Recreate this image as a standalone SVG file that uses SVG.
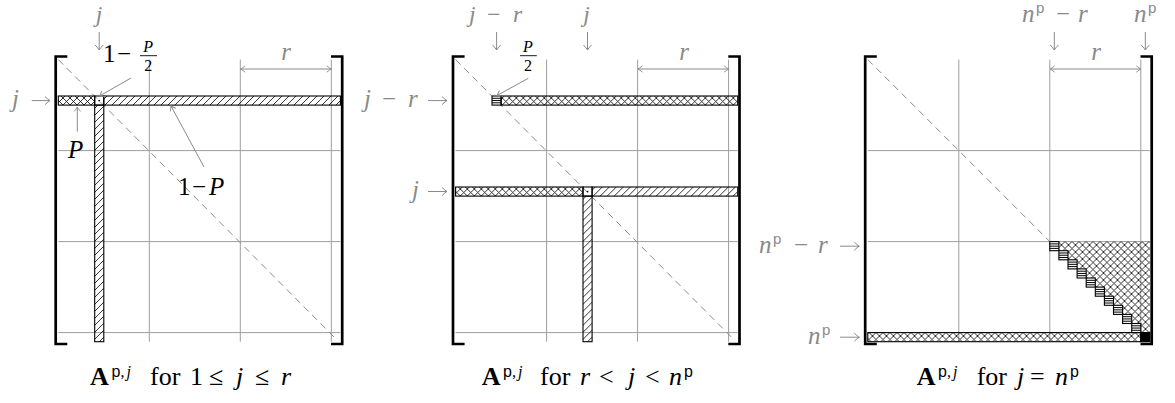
<svg xmlns="http://www.w3.org/2000/svg" width="1175" height="403" viewBox="0 0 1175 403">
<style>
.m{font-family:"Liberation Serif",serif;font-style:italic;font-size:25px}
.t{font-size:23.5px}
.up{font-style:normal}
.sf{font-family:"Liberation Sans",sans-serif;font-style:normal}
.bf{font-weight:bold;font-style:normal}
.g{fill:#8a8a8a}
.k{fill:#000}
.grid{stroke:#9e9e9e;stroke-width:1;fill:none}
.diag{stroke:#8a8a8a;stroke-width:1;stroke-dasharray:7 5;fill:none}
.br{stroke:#000;stroke-width:2.7;fill:none}
.strip{stroke:#000;stroke-width:1.1}
.con{stroke:#8a8a8a;stroke-width:1;fill:none;marker-end:url(#ah)}
.dbl{marker-start:url(#ah)}
.lab{stroke:#8a8a8a;stroke-width:1;fill:none;marker-end:url(#ah2)}
.bar{stroke:#000;stroke-width:0.9}
</style>
<defs>
<pattern id="hatch" patternUnits="userSpaceOnUse" width="7" height="7">
<path d="M-1,1 L1,-1 M0,7 L7,0 M6,8 L8,6" stroke="#000" stroke-width="0.8"/>
</pattern>
<pattern id="xhatch" patternUnits="userSpaceOnUse" width="7" height="7">
<path d="M0,0 L7,7 M0,7 L7,0" stroke="#000" stroke-width="0.8"/>
</pattern>
<marker id="ah" viewBox="-5 -4 6 8" refX="0" refY="0" markerWidth="6" markerHeight="8" orient="auto-start-reverse" markerUnits="userSpaceOnUse">
<path d="M-4.5,-3.2 Q-1.5,-0.8 0,0 Q-1.5,0.8 -4.5,3.2" fill="none" stroke="#8a8a8a" stroke-width="0.9"/>
</marker>
<marker id="ah2" viewBox="-6 -5 7 10" refX="0" refY="0" markerWidth="7" markerHeight="10" orient="auto" markerUnits="userSpaceOnUse">
<path d="M-5,-4 Q-1.8,-1 0,0 Q-1.8,1 -5,4" fill="none" stroke="#8a8a8a" stroke-width="1"/>
</marker>
<g id="hsq">
<rect x="0" y="0" width="9.1" height="9.1" fill="#fff" stroke="#000" stroke-width="1.1"/>
<path d="M0,2.3H9.1M0,4.55H9.1M0,6.8H9.1" stroke="#000" stroke-width="1"/>
</g>
<g id="dsq">
<rect x="0" y="0" width="9.1" height="9.1" fill="none" stroke="#000" stroke-width="1.1"/>
<circle cx="4.55" cy="4.55" r="0.9" fill="#000"/>
</g>
<g id="gridlines">
<path class="grid" d="M149.3,59.6V341.7M240.3,59.6V341.7M331.3,59.6V341.7M58.3,150.6H340.4M58.3,241.6H340.4M58.3,332.6H340.4"/>
</g>
<g id="brackets">
<path class="br" d="M67.3,56.5H55.7V344H67.3"/>
<path class="br" d="M331,56.5H342.2V344H331"/>
</g>
</defs>

<g id="panel1">
<g id="panel1-matrix">
<use href="#gridlines"/>
<path class="diag" d="M58.3,59.6L334,337"/>
<use href="#brackets"/>
<rect class="strip" x="58.3" y="96" width="36.4" height="9.1" fill="url(#xhatch)"/>
<use href="#dsq" x="94.7" y="96"/>
<rect class="strip" x="103.8" y="96" width="236.6" height="9.1" fill="url(#hatch)"/>
<rect class="strip" x="94.7" y="105.1" width="9.1" height="236.6" fill="url(#hatch)"/>
</g>
<g id="panel1-labels">
<text class="m t g" x="99" y="21.5" text-anchor="middle">j</text>
<text class="m g" x="12" y="107">j</text>
<text class="m k"><tspan class="up" x="103" y="62">1</tspan><tspan class="up" x="117" y="62">−</tspan><tspan x="143.3" y="52" font-size="16">P</tspan><tspan class="up" x="144.3" y="71" font-size="16">2</tspan></text>
<line class="bar" x1="140" y1="55.7" x2="157" y2="55.7"/>
<text class="m k" x="68" y="158">P</text>
<text class="m k"><tspan class="up" x="178" y="195">1</tspan><tspan class="up" x="192" y="195">−</tspan><tspan x="209" y="195">P</tspan></text>
<text class="m g" x="286" y="60" text-anchor="middle">r</text>
<text class="m k"><tspan class="bf" x="90" y="385" font-size="26">A</tspan><tspan class="sf" x="111.5" y="376.5" font-size="16">p</tspan><tspan class="up" x="120.5" y="376.5" font-size="16">,</tspan><tspan x="126.5" y="376.5" font-size="16">j</tspan><tspan class="up" x="150" y="385" font-size="26">for</tspan><tspan class="up" x="190" y="385" font-size="26">1</tspan><tspan class="up" x="209" y="385" font-size="26">≤</tspan><tspan x="236" y="385" font-size="26">j</tspan><tspan class="up" x="255" y="385" font-size="26">≤</tspan><tspan x="281" y="385" font-size="26">r</tspan></text>
</g>
</g>

<g id="panel2">
<g id="panel2-matrix" transform="translate(397.3,0)">
<use href="#gridlines"/>
<path class="diag" d="M58.3,59.6L334,337"/>
<use href="#brackets"/>
<use href="#hsq" x="94.7" y="96"/>
<rect class="strip" x="103.8" y="96" width="236.6" height="9.1" fill="url(#xhatch)"/>
<rect class="strip" x="58.3" y="187" width="127.4" height="9.1" fill="url(#xhatch)"/>
<use href="#dsq" x="185.7" y="187"/>
<rect class="strip" x="194.8" y="187" width="145.6" height="9.1" fill="url(#hatch)"/>
<rect class="strip" x="185.7" y="196.1" width="9.1" height="145.6" fill="url(#hatch)"/>
</g>
<g id="panel2-labels">
<text class="m t g"><tspan x="469" y="21.5">j</tspan><tspan class="up" x="487" y="21.5">−</tspan><tspan x="513" y="21.5">r</tspan></text>
<text class="m t g" x="586.5" y="21.5" text-anchor="middle">j</text>
<text class="m k"><tspan x="523.1" y="52" font-size="16">P</tspan><tspan class="up" x="524.1" y="71" font-size="16">2</tspan></text>
<line class="bar" x1="520" y1="55.7" x2="536.8" y2="55.7"/>
<text class="m g"><tspan x="364" y="107">j</tspan><tspan class="up" x="382" y="107">−</tspan><tspan x="408" y="107">r</tspan></text>
<text class="m g" x="412" y="198">j</text>
<text class="m g" x="684" y="60" text-anchor="middle">r</text>
<text class="m k"><tspan class="bf" x="481.7" y="385" font-size="26">A</tspan><tspan class="sf" x="503" y="376.5" font-size="16">p</tspan><tspan class="up" x="512" y="376.5" font-size="16">,</tspan><tspan x="518" y="376.5" font-size="16">j</tspan><tspan class="up" x="540" y="385" font-size="26">for</tspan><tspan x="580" y="385" font-size="26">r</tspan><tspan class="up" x="599" y="385" font-size="26">&lt;</tspan><tspan x="628" y="385" font-size="26">j</tspan><tspan class="up" x="645" y="385" font-size="26">&lt;</tspan><tspan x="669" y="385" font-size="26">n</tspan><tspan class="sf" x="684" y="376.5" font-size="16">p</tspan></text>
</g>
</g>

<g id="panel3">
<g id="panel3-matrix" transform="translate(809.5,0)">
<use href="#gridlines"/>
<path class="diag" d="M58.3,59.6L240.3,241.6"/>
<use href="#brackets"/>
<polygon fill="url(#xhatch)" points="249.4,241.6 340.4,241.6 340.4,332.6 331.3,332.6 331.3,323.5 322.2,323.5 322.2,314.4 313.1,314.4 313.1,305.3 304,305.3 304,296.2 294.9,296.2 294.9,287.1 285.8,287.1 285.8,278 276.7,278 276.7,268.9 267.6,268.9 267.6,259.8 258.5,259.8 258.5,250.7 249.4,250.7"/>
<use href="#hsq" x="240.3" y="241.6"/>
<use href="#hsq" x="249.4" y="250.7"/>
<use href="#hsq" x="258.5" y="259.8"/>
<use href="#hsq" x="267.6" y="268.9"/>
<use href="#hsq" x="276.7" y="278"/>
<use href="#hsq" x="285.8" y="287.1"/>
<use href="#hsq" x="294.9" y="296.2"/>
<use href="#hsq" x="304" y="305.3"/>
<use href="#hsq" x="313.1" y="314.4"/>
<use href="#hsq" x="322.2" y="323.5"/>
<rect class="strip" x="58.3" y="332.6" width="273" height="9.1" fill="url(#xhatch)"/>
<rect class="strip" x="331.3" y="332.6" width="9.1" height="9.1" fill="#000"/>
</g>
<g id="panel3-labels">
<text class="m g"><tspan x="1022" y="22">n</tspan><tspan class="sf" x="1036" y="13" font-size="15">p</tspan><tspan class="up" x="1056" y="22">−</tspan><tspan x="1078" y="22">r</tspan></text>
<text class="m g"><tspan x="1134" y="22">n</tspan><tspan class="sf" x="1148" y="13" font-size="15">p</tspan></text>
<text class="m g" x="1096" y="60" text-anchor="middle">r</text>
<text class="m g"><tspan x="759" y="252.5">n</tspan><tspan class="sf" x="773" y="243.5" font-size="15">p</tspan><tspan class="up" x="794" y="252.5">−</tspan><tspan x="818" y="252.5">r</tspan></text>
<text class="m g"><tspan x="808" y="343.5">n</tspan><tspan class="sf" x="822" y="334.5" font-size="15">p</tspan></text>
<text class="m k"><tspan class="bf" x="916.7" y="385" font-size="26">A</tspan><tspan class="sf" x="938" y="376.5" font-size="16">p</tspan><tspan class="up" x="947" y="376.5" font-size="16">,</tspan><tspan x="953" y="376.5" font-size="16">j</tspan><tspan class="up" x="976.7" y="385" font-size="26">for</tspan><tspan x="1017" y="385" font-size="26">j</tspan><tspan class="up" x="1030" y="385" font-size="26">=</tspan><tspan x="1055" y="385" font-size="26">n</tspan><tspan class="sf" x="1070" y="376.5" font-size="16">p</tspan></text>
</g>
</g>

<g id="connectors">
<path class="con dbl" d="M240.7,69H331.3"/>
<path class="con dbl" d="M638,69H728.6"/>
<path class="con dbl" d="M1050.2,69H1140.8"/>
<path class="con" d="M131,78L99.5,96"/>
<path class="con" d="M77.3,131.7V107"/>
<path class="con" d="M204,167L171,106"/>
<path class="con" d="M528.3,78.3L497,95.5"/>
<path class="lab" d="M99.2,32V50"/>
<path class="lab" d="M496.6,32V50"/>
<path class="lab" d="M587.5,32V50"/>
<path class="lab" d="M1054.3,32V50"/>
<path class="lab" d="M1145.3,32V50"/>
<path class="lab" d="M31.7,100.6H50"/>
<path class="lab" d="M428,100.6H447"/>
<path class="lab" d="M428,191.5H447"/>
<path class="lab" d="M840,246.2H859.3"/>
<path class="lab" d="M840,337.2H859.3"/>
</g>
</svg>
